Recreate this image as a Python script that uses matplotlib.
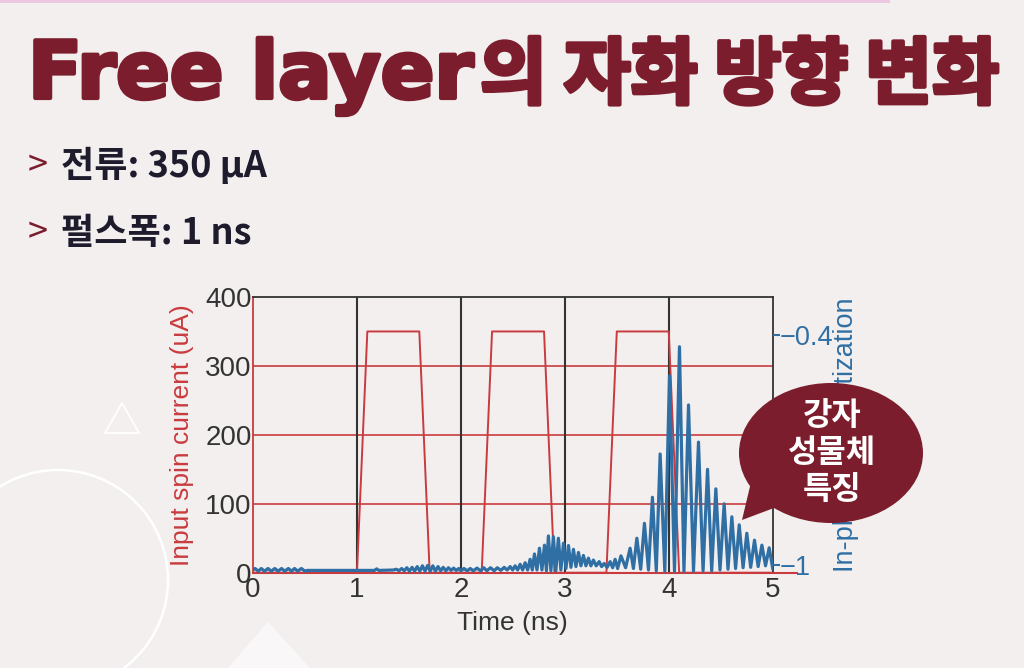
import matplotlib
matplotlib.use('Agg')
import matplotlib.pyplot as plt
import matplotlib.patheffects as pe
from matplotlib.patches import Ellipse, Polygon, Circle, Rectangle

# Input spin current pulses (uA) vs time (ns)
current_t = [0.0, 1.0, 1.1, 1.6, 1.7, 2.2, 2.3, 2.8, 2.9, 3.4, 3.5, 4.0, 4.1, 5.0]
current_ua = [0, 0, 350, 350, 0, 0, 350, 350, 0, 0, 350, 350, 0, 0]

mag_t = [0.00, 0.02, 0.05, 0.08, 0.11, 0.145, 0.175, 0.21, 0.24, 0.275, 0.305, 0.34, 0.37, 0.40, 0.43, 0.465, 0.50,
         0.52, 1.17, 1.19, 1.21, 1.35,
         1.38, 1.405, 1.43, 1.455, 1.48, 1.505, 1.53, 1.555, 1.58, 1.605, 1.63, 1.655, 1.68, 1.705, 1.73, 1.755,
         1.78, 1.805, 1.83, 1.855, 1.88, 1.905, 1.93, 1.955, 1.98, 2.00,
         2.03, 2.06, 2.09, 2.12, 2.155, 2.19, 2.22, 2.25, 2.285, 2.32, 2.35, 2.385,
         2.416, 2.445, 2.474, 2.498, 2.522, 2.546, 2.570, 2.594, 2.618, 2.642, 2.666, 2.687, 2.708, 2.732,
         2.756, 2.780, 2.804, 2.823, 2.842, 2.866, 2.890, 2.914, 2.938, 2.962, 2.987, 3.011, 3.035, 3.059,
         3.083, 3.107, 3.131, 3.155, 3.179, 3.203, 3.227, 3.251, 3.275, 3.302, 3.330, 3.354, 3.378, 3.407,
         3.436, 3.460, 3.484, 3.508, 3.540, 3.585,
         3.628, 3.660, 3.693, 3.730, 3.766, 3.805, 3.843, 3.880, 3.917, 3.962, 4.007, 4.055, 4.103, 4.146,
         4.190, 4.238, 4.286, 4.330, 4.373, 4.413, 4.453, 4.493, 4.533, 4.570, 4.607, 4.643, 4.678, 4.715,
         4.751, 4.788, 4.825, 4.860, 4.896, 4.931, 4.966, 5.000]
mag_m = [-1.013, -1.009, -1.016, -1.009, -1.016, -1.009, -1.016, -1.009, -1.016, -1.009, -1.016, -1.009, -1.016,
         -1.009, -1.016, -1.009, -1.016,
         -1.014, -1.014, -1.010, -1.014, -1.013,
         -1.011, -1.015, -1.009, -1.015, -1.007, -1.016, -1.006, -1.016, -1.004, -1.016, -1.002, -1.016, -1.001,
         -1.016, -1.002, -1.016, -1.004, -1.015, -1.006, -1.015, -1.007, -1.014, -1.008, -1.014, -1.009, -1.015,
         -1.009, -1.015, -1.009, -1.015, -1.008, -1.015, -1.007, -1.015, -1.007, -1.015, -1.007, -1.014,
         -1.006, -1.013, -1.004, -1.013, -1.002, -1.013, -0.998, -1.013, -0.994, -1.013, -0.985, -1.013, -0.971,
         -1.013, -0.956, -1.013, -0.948, -1.015, -0.924, -1.015, -0.926, -1.015, -0.930, -1.013, -0.943, -1.009,
         -0.949, -1.006, -0.959, -1.004, -0.967, -1.002, -0.975, -1.002, -0.982, -1.002, -0.987, -1.002, -0.991,
         -1.004, -0.996, -1.006, -0.991, -1.007, -0.985, -1.009, -0.976, -1.007,
         -0.956, -1.009, -0.930, -1.011, -0.891, -1.013, -0.823, -1.015, -0.710, -1.016, -0.506, -1.016, -0.430,
         -1.016, -0.582, -1.016, -0.679, -1.015, -0.750, -1.015, -0.801, -1.013, -0.840, -1.011, -0.874, -1.009,
         -0.895, -1.007, -0.917, -1.006, -0.935, -1.004, -0.948, -1.002, -0.955, -1.009]

x_ticks = [0, 1, 2, 3, 4, 5]
left_ticks = [0, 100, 200, 300, 400]
right_ticks = [-1, -0.4]
right_labels = ['\u22121', '\u22120.4']

RED = '#c93b3f'
BLUE = '#2f6fa4'
DARK = '#7b1d2c'
GRAY = '#333333'
INK = '#1d1b2c'

fig = plt.figure(figsize=(10.24, 6.68), dpi=100)
fig.patch.set_facecolor('#f3efef')

# background decoration (pixel coordinates)
bg = fig.add_axes([0, 0, 1, 1], zorder=-5)
bg.set_xlim(0, 1024)
bg.set_ylim(668, 0)
bg.axis('off')
bg.add_patch(Rectangle((0, 0), 890, 3, color='#ecc8e2', lw=0))
bg.add_patch(Circle((58, 580), 110, fill=False, ec='white', lw=1.8))
bg.add_patch(Polygon([(105, 433), (122, 403), (139, 433)], closed=True, fill=False, ec='white', lw=1.3))
bg.add_patch(Polygon([(228, 668), (268, 622), (310, 668)], closed=True, fc='white', alpha=0.5, lw=0))

# title (latin part and hangul part), bullets
heavy = [pe.withStroke(linewidth=3, foreground=DARK)]
fig.text(28 / 1024, 1 - 98 / 668, 'Free layer', fontsize=57, fontweight='bold', color=DARK,
         family='DejaVu Sans', va='baseline', ha='left', path_effects=heavy)
fig.text(480 / 1024, 1 - 98 / 668, '의 자화 방향 변화', fontsize=52.5, fontweight='bold', color=DARK,
         family=['Noto Sans CJK KR'], va='baseline', ha='left', path_effects=heavy)
fig.text(28 / 1024, 1 - 176 / 668, '>', fontsize=26, color=DARK, family=['Noto Sans CJK KR'], va='baseline')
fig.text(61 / 1024, 1 - 177 / 668, '전류: 350 μA', fontsize=26, fontweight='bold', color=INK,
         family=['Noto Sans CJK KR', 'DejaVu Sans'], va='baseline')
fig.text(28 / 1024, 1 - 243 / 668, '>', fontsize=26, color=DARK, family=['Noto Sans CJK KR'], va='baseline')
fig.text(61 / 1024, 1 - 244 / 668, '펄스폭: 1 ns', fontsize=26, fontweight='bold', color=INK,
         family=['Noto Sans CJK KR', 'DejaVu Sans'], va='baseline')

# chart
ax = fig.add_axes([253 / 1024, 95.3 / 668, 519.7 / 1024, 275.7 / 668])
ax.set_facecolor('none')
ax.set_xlim(0, 5)
ax.set_ylim(0, 400)
ax.set_xticks(x_ticks)
ax.set_yticks(left_ticks)
for v in left_ticks[1:-1]:
    ax.axhline(v, color=RED, lw=1.2, zorder=1)
for v in x_ticks[1:-1]:
    ax.axvline(v, color=GRAY, lw=1.5, zorder=1)
ax.axhline(0, xmin=0, xmax=1.047, color=RED, lw=1.5, clip_on=False, zorder=3)
ax.plot(current_t, current_ua, color=RED, lw=1.4, zorder=2)
ax.spines['left'].set_color(RED)
ax.spines['bottom'].set_color(RED)
ax.spines['top'].set_color(GRAY)
ax.spines['right'].set_color(GRAY)
for s in ax.spines.values():
    s.set_linewidth(1.3)
ax.tick_params(length=0, labelsize=20, labelcolor=GRAY, pad=1)
ax.tick_params(axis='x', pad=3)
for lbl in ax.get_xticklabels() + ax.get_yticklabels():
    lbl.set_family('Liberation Sans')
ax.set_xlabel('Time (ns)', fontsize=19, color=GRAY, family='Liberation Sans', labelpad=6)
ax.set_ylabel('Input spin current (uA)', fontsize=19, color=RED, family='Liberation Sans', labelpad=8)

ax2 = ax.twinx()
ax2.set_ylim(-1.02, -0.30)
ax2.plot(mag_t, mag_m, color=BLUE, lw=2.3, zorder=4)
ax2.set_yticks(right_ticks)
ax2.set_yticklabels(right_labels)
ax2.tick_params(axis='y', colors=BLUE, length=5, width=1.5, labelsize=19.5, pad=0)
for lbl in ax2.get_yticklabels():
    lbl.set_family('Liberation Sans')
for s in ax2.spines.values():
    s.set_visible(False)
ax2.set_ylabel('In-plane magnetization', fontsize=19.5, color=BLUE, family='Liberation Sans', labelpad=0)

# speech bubble on top
fg = fig.add_axes([0, 0, 1, 1], zorder=10)
fg.set_xlim(0, 1024)
fg.set_ylim(668, 0)
fg.axis('off')
fg.patch.set_visible(False)
fg.add_patch(Ellipse((831, 453), 184, 140, color=DARK, lw=0))
fg.add_patch(Polygon([(752, 478), (742, 520), (782, 505)], closed=True, color=DARK, lw=0))
fg.text(832, 453, '강자\n성물체\n특징', fontsize=23, fontweight='bold', color='white', ha='center',
        va='center', linespacing=1.2, family=['Noto Sans CJK KR'])

fig.savefig('out.png', dpi=100, facecolor=fig.get_facecolor())
